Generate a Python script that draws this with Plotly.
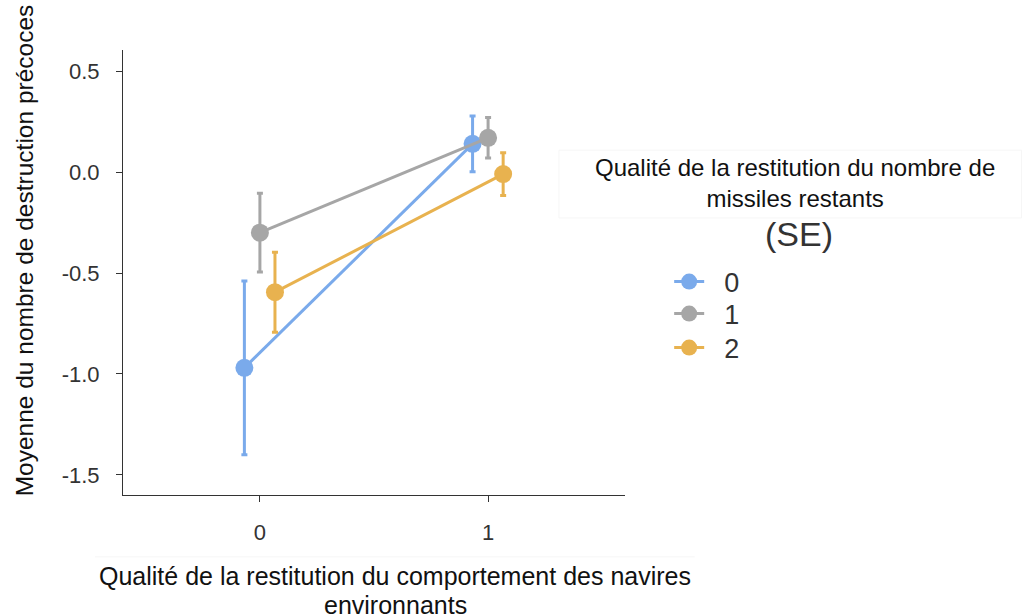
import plotly.graph_objects as go

# Data
x_categories = [0, 1]
x_tick_labels = ["0", "1"]
y_tick_values = [-1.5, -1.0, -0.5, 0.0, 0.5]
y_tick_labels = ["-1.5", "-1.0", "-0.5", "0.0", "0.5"]
group_names = ["0", "1", "2"]
means_g0 = [-0.970, 0.140]
se_g0 = [0.430, 0.138]
means_g1 = [-0.300, 0.170]
se_g1 = [0.195, 0.100]
means_g2 = [-0.595, -0.010]
se_g2 = [0.198, 0.106]

colors = ["#7AAAEB", "#A6A6A6", "#E8B24F"]
dodge = [-0.068, 0.0, 0.066]
legend_ids = ["legend", "legend2", "legend3"]
legend_tops = [0.5337, 0.4618, 0.3854]
FONT = "Liberation Sans, Arial, sans-serif"

fig = go.Figure()
for name, m, se, c, d, lg in zip(group_names, [means_g0, means_g1, means_g2],
                                 [se_g0, se_g1, se_g2], colors, dodge, legend_ids):
    fig.add_trace(go.Scatter(
        x=[xc + d for xc in x_categories], y=m, name="\u00a0\u00a0" + name,
        mode="lines+markers",
        line=dict(color=c, width=3),
        marker=dict(color=c, size=18),
        error_y=dict(type="data", array=se, visible=True, color=c,
                     thickness=3, width=3),
        legend=lg,
    ))

axis_common = dict(showgrid=False, zeroline=False, showline=True,
                   linecolor="#333333", linewidth=1, ticks="outside",
                   ticklen=6, tickcolor="#333333",
                   tickfont=dict(size=22, color="#333333"))

legend_style = dict(x=1.088, xanchor="left", yanchor="top",
                    font=dict(size=27, color="#333333"),
                    tracegroupgap=0, itemwidth=30, bgcolor="rgba(0,0,0,0)")

fig.update_layout(
    width=1023, height=616,
    margin=dict(l=123, r=398, t=50, b=121),
    paper_bgcolor="white", plot_bgcolor="white",
    font=dict(family=FONT, color="#333333", size=18),
    showlegend=True,
    legend=dict(y=legend_tops[0], **legend_style),
    legend2=dict(y=legend_tops[1], **legend_style),
    legend3=dict(y=legend_tops[2], **legend_style),
    xaxis=dict(range=[-0.6, 1.6], tickvals=x_categories, ticktext=x_tick_labels,
               ticklabelstandoff=12, **axis_common),
    yaxis=dict(range=[-1.6, 0.605], tickvals=y_tick_values, ticktext=y_tick_labels,
               ticklabelstandoff=12, **axis_common),
    shapes=[
        dict(type="rect", xref="paper", yref="paper", x0=0.8685, x1=1.79,
             y0=0.6225, y1=0.775, line=dict(color="#F6F6F6", width=1),
             fillcolor="rgba(0,0,0,0)", layer="below"),
        dict(type="line", xref="paper", yref="paper", x0=-0.056, x1=1.139,
             y0=-0.139, y1=-0.139, line=dict(color="#F6F6F6", width=1)),
    ],
    annotations=[
        dict(text="Moyenne du nombre de destruction précoces", textangle=-90,
             xref="paper", yref="paper", x=-0.197, y=0.55, xanchor="center",
             yanchor="middle", showarrow=False,
             font=dict(size=24.5, color="#111111")),
        dict(text="Qualité de la restitution du comportement des navires",
             xref="paper", yref="paper", x=0.542, y=-0.182, xanchor="center",
             yanchor="middle", showarrow=False,
             font=dict(size=25, color="#111111")),
        dict(text="environnants",
             xref="paper", yref="paper", x=0.542, y=-0.247, xanchor="center",
             yanchor="middle", showarrow=False,
             font=dict(size=25, color="#111111")),
        dict(text="Qualité de la restitution du nombre de<br>missiles restants",
             xref="paper", yref="paper", x=1.339, y=0.701, xanchor="center",
             yanchor="middle", showarrow=False,
             font=dict(size=24, color="#111111")),
        dict(text="(SE)", xref="paper", yref="paper", x=1.347, y=0.586,
             xanchor="center", yanchor="middle", showarrow=False,
             font=dict(size=34, color="#333333")),
    ],
)

fig.write_html("out.html", config={"displayModeBar": False},
               post_script="document.body.style.margin='0';")
